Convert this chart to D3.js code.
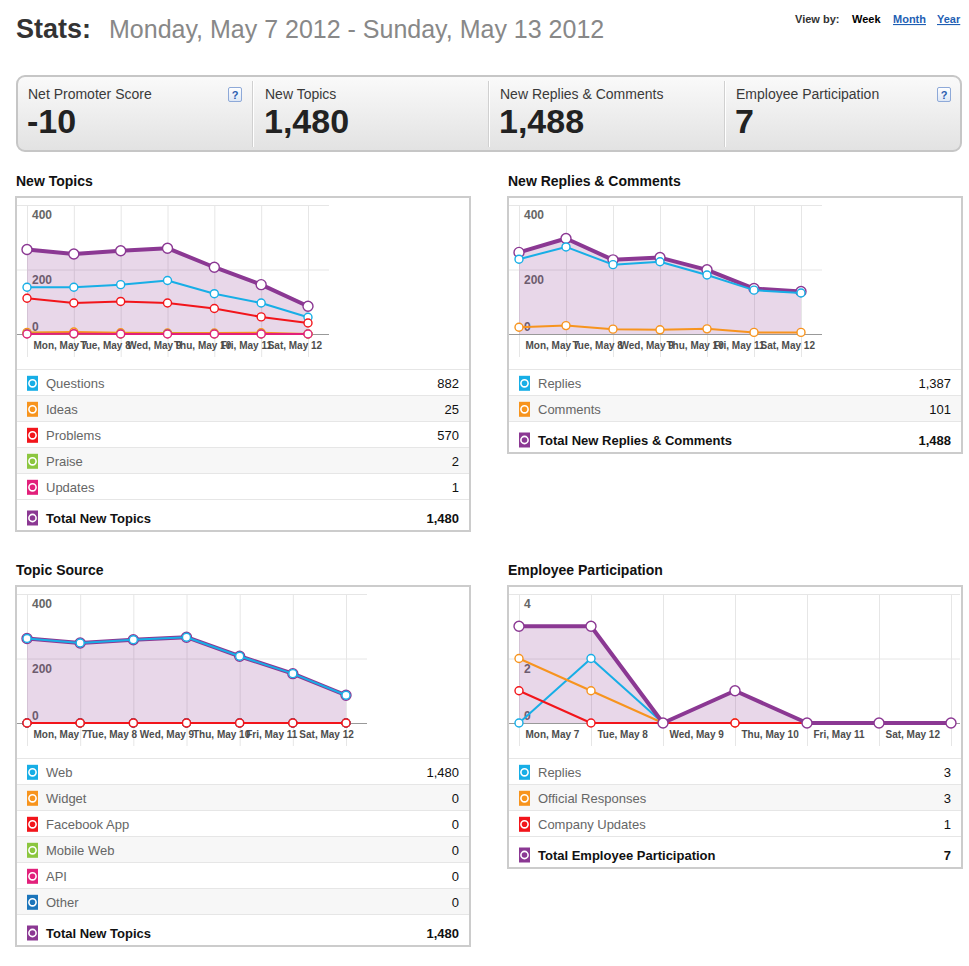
<html>
<head>
<script src="https://d3js.org/d3.v7.min.js"></script>
<style>
    body { margin: 0; background: #fff; }
    text { font-family: "Liberation Sans", Arial, sans-serif; }
    .section-title { font-size: 14px; font-weight: bold; fill: #111; }
    .ylab { font-size: 12px; font-weight: bold; fill: #666; }
    .xlab text { font-size: 10px; font-weight: bold; fill: #4d4d4d; font-family: "Liberation Sans", Arial, sans-serif; }
    .grid line { stroke: #e6e6e6; }
    .leg-name { font-size: 13px; fill: #666; }
    .leg-val { font-size: 13px; fill: #111; text-anchor: end; }
    .leg-total { font-weight: bold; fill: #111; }
</style>
</head>
<body>
<svg id="page" width="969" height="966"></svg>
<script>
// ---- data ----
const days = ["Mon, May 7", "Tue, May 8", "Wed, May 9", "Thu, May 10", "Fri, May 11", "Sat, May 12", "Sun, May 13"];

const statLabels = ["Net Promoter Score", "New Topics", "New Replies & Comments", "Employee Participation"];
const statValues = ["-10", "1,480", "1,488", "7"];

// new topics
const topicsQuestions = [145, 145, 153, 166, 125, 96, 52];
const topicsIdeas     = [5, 6, 4, 3, 3, 4, 0];
const topicsProblems  = [111, 96, 101, 96, 79, 53, 34];
const topicsPraise    = [1, 0, 0, 1, 0, 0, 0];
const topicsUpdates   = [0, 1, 0, 0, 0, 0, 0];
const topicsTotal     = [262, 248, 258, 266, 207, 153, 86];

// replies & comments
const repliesReplies  = [232, 270, 215, 224, 183, 136, 127];
const repliesComments = [21, 26, 15, 13, 16, 5, 5];
const repliesTotal    = [253, 296, 230, 237, 199, 141, 132];

// topic source
const sourceWeb      = [262, 248, 258, 266, 207, 153, 86];
const sourceWidget   = [0, 0, 0, 0, 0, 0, 0];
const sourceFacebook = [0, 0, 0, 0, 0, 0, 0];
const sourceMobile   = [0, 0, 0, 0, 0, 0, 0];
const sourceApi      = [0, 0, 0, 0, 0, 0, 0];
const sourceOther    = [0, 0, 0, 0, 0, 0, 0];
const sourceTotal    = [262, 248, 258, 266, 207, 153, 86];

// employee participation
const empReplies  = [0, 2, 0, 1, 0, 0, 0];
const empOfficial = [2, 1, 0, 0, 0, 0, 0];
const empUpdates  = [1, 0, 0, 0, 0, 0, 0];
const empTotal    = [3, 3, 0, 1, 0, 0, 0];

const ticksTopics = [0, 200, 400];
const ticksEmp = [0, 2, 4];

// ---- colours ----
const cCyan = "#17aee6", cOrange = "#f7941e", cRed = "#f2151b", cGreen = "#8cc63f",
      cPink = "#e2207b", cBlue = "#1b75bb", cPurple = "#8b3893";

const svg = d3.select("#page");
const fmt = d3.format(",");

// ---- header ----
svg.append("text").attr("x", 16).attr("y", 38)
   .style("font-size", "27px").style("font-weight", "bold").attr("fill", "#333")
   .text("Stats:");
svg.append("text").attr("x", 109).attr("y", 38)
   .style("font-size", "25px").attr("fill", "#888")
   .text("Monday, May 7 2012 - Sunday, May 13 2012");

const viewBy = [
    {t: "View by:", x: 795, c: "#333", u: false},
    {t: "Week", x: 852, c: "#000", u: false},
    {t: "Month", x: 893, c: "#1f5fb4", u: true},
    {t: "Year", x: 937, c: "#1f5fb4", u: true}
];
svg.selectAll(".viewby").data(viewBy).enter()
   .append("text")
   .attr("x", d => d.x).attr("y", 23)
   .style("font-size", "11px").style("font-weight", "bold")
   .style("text-decoration", d => d.u ? "underline" : "none")
   .attr("fill", d => d.c)
   .text(d => d.t);

// ---- stats box ----
const defs = svg.append("defs");
const grad = defs.append("linearGradient").attr("id", "boxgrad").attr("x1", 0).attr("y1", 0).attr("x2", 0).attr("y2", 1);
grad.append("stop").attr("offset", "0%").attr("stop-color", "#fafafa");
grad.append("stop").attr("offset", "100%").attr("stop-color", "#e2e2e2");
const qgrad = defs.append("linearGradient").attr("id", "qgrad").attr("x1", 0).attr("y1", 0).attr("x2", 0).attr("y2", 1);
qgrad.append("stop").attr("offset", "0%").attr("stop-color", "#ffffff");
qgrad.append("stop").attr("offset", "100%").attr("stop-color", "#dce6f5");

svg.append("rect").attr("x", 17).attr("y", 76).attr("width", 944).attr("height", 75)
   .attr("rx", 8).attr("fill", "url(#boxgrad)").attr("stroke", "#c6c6c6").attr("stroke-width", 2);

const cellX = [28, 265, 500, 736];
[252.5, 488.5, 724.5].forEach(dx => {
    svg.append("line").attr("x1", dx).attr("x2", dx).attr("y1", 81).attr("y2", 147).attr("stroke", "#d0d0d0");
    svg.append("line").attr("x1", dx + 1).attr("x2", dx + 1).attr("y1", 81).attr("y2", 147).attr("stroke", "#fff");
});
svg.selectAll(".statlab").data(statLabels).enter()
   .append("text").attr("x", (d, i) => cellX[i]).attr("y", 99)
   .style("font-size", "14px").attr("fill", "#3a3a3a").text(d => d);
svg.selectAll(".statval").data(statValues).enter()
   .append("text").attr("x", (d, i) => cellX[i] - 1).attr("y", 133)
   .style("font-size", "34px").style("font-weight", "bold").attr("fill", "#222").text(d => d);

[228, 937].forEach(qx => {
    svg.append("rect").attr("x", qx + 0.5).attr("y", 87.5).attr("width", 13).attr("height", 14)
       .attr("rx", 1.5).attr("fill", "url(#qgrad)").attr("stroke", "#8ea9d8");
    svg.append("text").attr("x", qx + 7).attr("y", 98.5).attr("text-anchor", "middle")
       .style("font-size", "11px").style("font-weight", "bold").attr("fill", "#2a5db0").text("?");
});

// ---- panels ----
function legendIcon(g, color, cy) {
    const ic = g.append("g").attr("transform", "translate(11," + (cy - 7.5) + ")");
    ic.append("rect").attr("width", 11).attr("height", 15).attr("fill", color);
    ic.append("circle").attr("cx", 5.5).attr("cy", 7.5).attr("r", 3.6)
      .attr("fill", color).attr("stroke", "#fff").attr("stroke-width", 1.6);
}

function drawPanel(cfg) {
    const n = cfg.series.length;
    const h = 172 + 26 * n + 32;

    svg.append("text").attr("class", "section-title")
       .attr("x", cfg.left).attr("y", cfg.top - 11).text(cfg.title);

    const g = svg.append("g").attr("transform", "translate(" + cfg.left + "," + cfg.top + ")");
    g.append("rect").attr("width", 454).attr("height", h)
     .attr("fill", "#fff").attr("stroke", "#cccccc").attr("stroke-width", 2);

    const x = d3.scalePoint().domain(days).range([11, cfg.lastX]);
    const y = d3.scaleLinear().domain([0, cfg.yMax]).range([137, 8]);

    // vertical grid
    g.append("g").attr("class", "grid").attr("transform", "translate(0,160)")
     .call(d3.axisBottom(x).tickSize(-152).tickFormat(""))
     .call(a => a.select(".domain").remove());
    // horizontal grid
    g.append("g").attr("class", "grid").attr("transform", "translate(1,0)")
     .call(d3.axisLeft(y).tickValues(cfg.yTicks).tickSize(-(cfg.gridRight - 1)).tickFormat(""))
     .call(a => a.select(".domain").remove());

    g.append("line").attr("x1", 1).attr("x2", cfg.gridRight)
     .attr("y1", y(0) + 0.5).attr("y2", y(0) + 0.5).attr("stroke", "#999");

    // y labels
    g.selectAll(".ylab").data(cfg.yTicks).enter()
     .append("text").attr("class", "ylab")
     .attr("x", 16)
     .attr("y", d => d === 0 ? y(d) - 3 : y(d) + 14)
     .text(d => d);

    // x labels (left aligned on each day, overlapping like the original)
    const xl = g.append("g").attr("class", "xlab").attr("transform", "translate(0," + y(0) + ")")
     .call(d3.axisBottom(x).tickSize(0).tickPadding(0));
    xl.select(".domain").remove();
    xl.selectAll("text")
      .attr("text-anchor", "start").attr("dx", 6).attr("dy", 0).attr("y", 14.6)
      .each(function (d) {
          if (x(d) + 6 + this.getComputedTextLength() > cfg.gridRight + 4) d3.select(this).remove();
      });

    // total area
    const area = d3.area()
        .x((d, i) => x(days[i]))
        .y0(y(0))
        .y1(d => y(d));
    g.append("path").datum(cfg.total)
     .attr("d", area).attr("fill", cPurple).attr("fill-opacity", 0.2);

    const line = d3.line()
        .defined(d => d != null)
        .x((d, i) => x(days[i]))
        .y(d => y(d));

    function drawSeries(values, color, width, r) {
        g.append("path").datum(values)
         .attr("d", line).attr("fill", "none")
         .attr("stroke", color).attr("stroke-width", width)
         .attr("stroke-linejoin", "round");
        g.append("g").selectAll("circle")
         .data(values.map((v, i) => ({v: v, i: i})).filter(d => d.v != null))
         .enter().append("circle")
         .attr("cx", d => x(days[d.i])).attr("cy", d => y(d.v))
         .attr("r", r).attr("fill", "#fff")
         .attr("stroke", color).attr("stroke-width", 1.4);
    }

    const order = cfg.order || d3.range(n);
    if (!cfg.totalOnTop) drawSeries(cfg.total, cPurple, 4, 5);
    order.forEach(k => {
        const s = cfg.series[k];
        drawSeries(s.values, s.color, 2, 4);
    });
    if (cfg.totalOnTop) drawSeries(cfg.total, cPurple, 4, 5);

    // legend
    const leg = g.append("g").attr("transform", "translate(0,172)");
    leg.append("line").attr("x1", 1).attr("x2", 453).attr("y1", 0.5).attr("y2", 0.5).attr("stroke", "#e6e6e6");
    cfg.series.forEach((s, i) => {
        const top = 26 * i;
        if (i % 2 === 1) {
            leg.append("rect").attr("x", 1).attr("y", top + 1).attr("width", 452).attr("height", 25).attr("fill", "#f7f7f7");
        }
        leg.append("line").attr("x1", 1).attr("x2", 453)
           .attr("y1", top + 26.5).attr("y2", top + 26.5).attr("stroke", "#e6e6e6");
        legendIcon(leg, s.color, top + 14.3);
        leg.append("text").attr("class", "leg-name").attr("x", 30).attr("y", top + 19).text(s.name);
        leg.append("text").attr("class", "leg-val").attr("x", 443).attr("y", top + 19).text(fmt(d3.sum(s.values)));
    });
    const tTop = 26 * n;
    legendIcon(leg, cPurple, tTop + 19);
    leg.append("text").attr("class", "leg-name leg-total").attr("x", 30).attr("y", tTop + 24).text(cfg.totalName);
    leg.append("text").attr("class", "leg-val leg-total").attr("x", 443).attr("y", tTop + 24).text(fmt(d3.sum(cfg.total)));
}

drawPanel({
    title: "New Topics", left: 16, top: 197, lastX: 292, gridRight: 313,
    yMax: 400, yTicks: ticksTopics, total: topicsTotal, totalName: "Total New Topics",
    series: [
        {name: "Questions", values: topicsQuestions, color: cCyan},
        {name: "Ideas", values: topicsIdeas, color: cOrange},
        {name: "Problems", values: topicsProblems, color: cRed},
        {name: "Praise", values: topicsPraise, color: cGreen},
        {name: "Updates", values: topicsUpdates, color: cPink}
    ]
});

drawPanel({
    title: "New Replies & Comments", left: 508, top: 197, lastX: 293, gridRight: 314,
    yMax: 400, yTicks: ticksTopics, total: repliesTotal, totalName: "Total New Replies & Comments",
    series: [
        {name: "Replies", values: repliesReplies, color: cCyan},
        {name: "Comments", values: repliesComments, color: cOrange}
    ]
});

drawPanel({
    title: "Topic Source", left: 16, top: 586, lastX: 330, gridRight: 351,
    yMax: 400, yTicks: ticksTopics, total: sourceTotal, totalName: "Total New Topics",
    order: [0, 1, 3, 4, 5, 2],
    series: [
        {name: "Web", values: sourceWeb, color: cCyan},
        {name: "Widget", values: sourceWidget, color: cOrange},
        {name: "Facebook App", values: sourceFacebook, color: cRed},
        {name: "Mobile Web", values: sourceMobile, color: cGreen},
        {name: "API", values: sourceApi, color: cPink},
        {name: "Other", values: sourceOther, color: cBlue}
    ]
});

drawPanel({
    title: "Employee Participation", left: 508, top: 586, lastX: 443, gridRight: 452,
    yMax: 4, yTicks: ticksEmp, total: empTotal, totalName: "Total Employee Participation",
    totalOnTop: true,
    series: [
        {name: "Replies", values: empReplies, color: cCyan},
        {name: "Official Responses", values: empOfficial, color: cOrange},
        {name: "Company Updates", values: empUpdates, color: cRed}
    ]
});
</script>
</body>
</html>
